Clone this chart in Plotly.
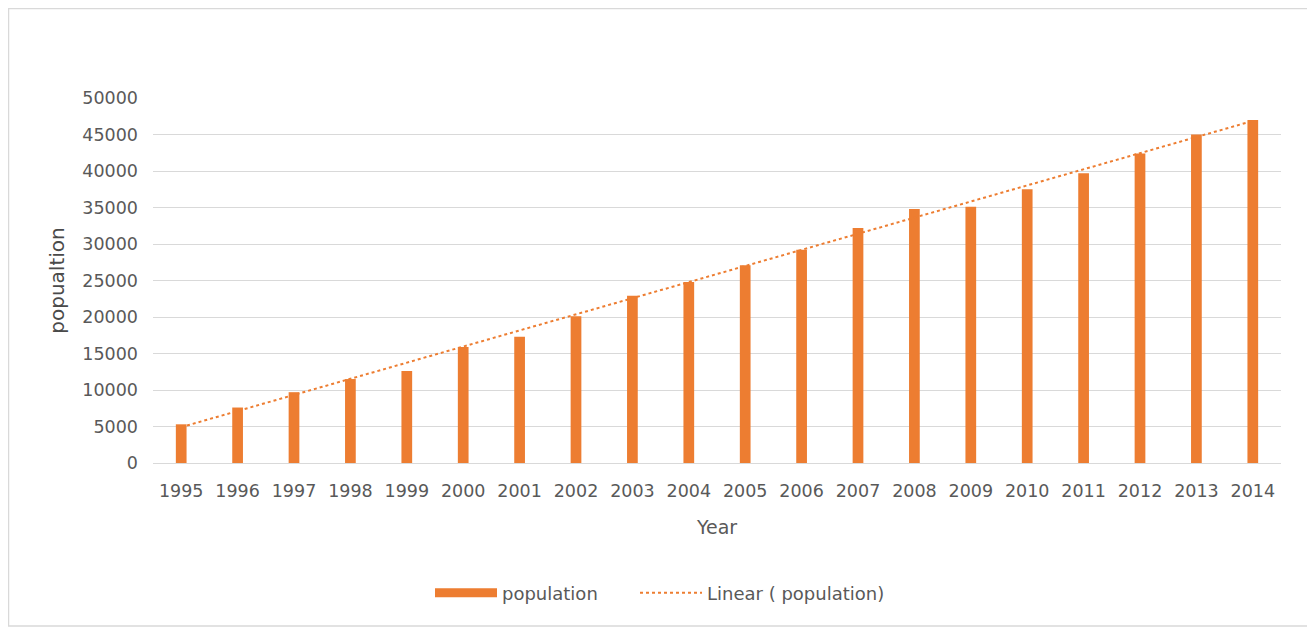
import numpy as np
import plotly.graph_objects as go

years = [str(y) for y in range(1995, 2015)]
population = [5300, 7600, 9700, 11500, 12600, 15900, 17300, 20100, 22900, 24800,
              27100, 29200, 32200, 34800, 35100, 37500, 39700, 42400, 45000, 47000]
y_ticks = [0, 5000, 10000, 15000, 20000, 25000, 30000, 35000, 40000, 45000, 50000]
y_tick_text = [str(v) for v in y_ticks]

# Linear trendline fitted to the data
idx = np.arange(len(population))
slope, intercept = np.polyfit(idx, population, 1)
trend = slope * idx + intercept

ORANGE = "#ED7D31"
TEXT = "#595959"
FONT = "DejaVu Sans, sans-serif"

# page body has an 8px margin; figure is sized to fit the window
W, H = 1307, 620
ml, mr, mt, mb = 145, 34, 90, 165

fig = go.Figure()
fig.add_trace(go.Bar(x=years, y=population, name="population", showlegend=False,
                     marker=dict(color=ORANGE, line=dict(width=0)), width=0.19))
# legend entry for the bars (wide swatch)
fig.add_trace(go.Scatter(x=[None], y=[None], name="population", mode="lines",
                         line=dict(color=ORANGE, width=9), showlegend=True, legend="legend"))
fig.add_trace(go.Scatter(x=years, y=trend, name="Linear ( population)", mode="lines",
                         line=dict(color=ORANGE, width=2, dash="dot"), legend="legend2"))

pw = W - ml - mr
ph = H - mt - mb
def px2x(p):
    return (p - ml) / pw
def py2y(p):
    return (H - mb - p) / ph

fig.add_shape(type="rect", xref="paper", yref="paper",
              x0=px2x(0.5), x1=px2x(1300), y0=py2y(618), y1=py2y(0.5),
              line=dict(color="#D9D9D9", width=1.5), fillcolor="rgba(0,0,0,0)", layer="below")

leg_common = dict(orientation="h", xanchor="left", y=py2y(585), yanchor="middle",
                  font=dict(size=18, color=TEXT), itemwidth=62, bgcolor="rgba(0,0,0,0)")

fig.update_layout(
    width=W, height=H,
    margin=dict(l=ml, r=mr, t=mt, b=mb),
    paper_bgcolor="white", plot_bgcolor="white",
    font=dict(family=FONT, color=TEXT, size=17),
    showlegend=True,
    legend=dict(x=px2x(422), **leg_common),
    legend2=dict(x=px2x(627), **leg_common),
    xaxis=dict(type="category", showgrid=False, showline=True, linecolor="#D9D9D9", linewidth=1,
               ticks="", tickfont=dict(size=17.5, color=TEXT), ticklabelstandoff=12,
               title=dict(text="Year", font=dict(size=19, color=TEXT), standoff=20)),
    yaxis=dict(range=[0, 50000], tickvals=y_ticks, ticktext=y_tick_text,
               showgrid=True, gridcolor="#D9D9D9", gridwidth=1,
               zeroline=False, showline=False, ticks="", tickfont=dict(size=17.5, color=TEXT),
               ticklabelstandoff=14,
               title=dict(text="popualtion", font=dict(size=20, color="#4a4a4a"), standoff=12)),
)

fig.write_html("out.html")
